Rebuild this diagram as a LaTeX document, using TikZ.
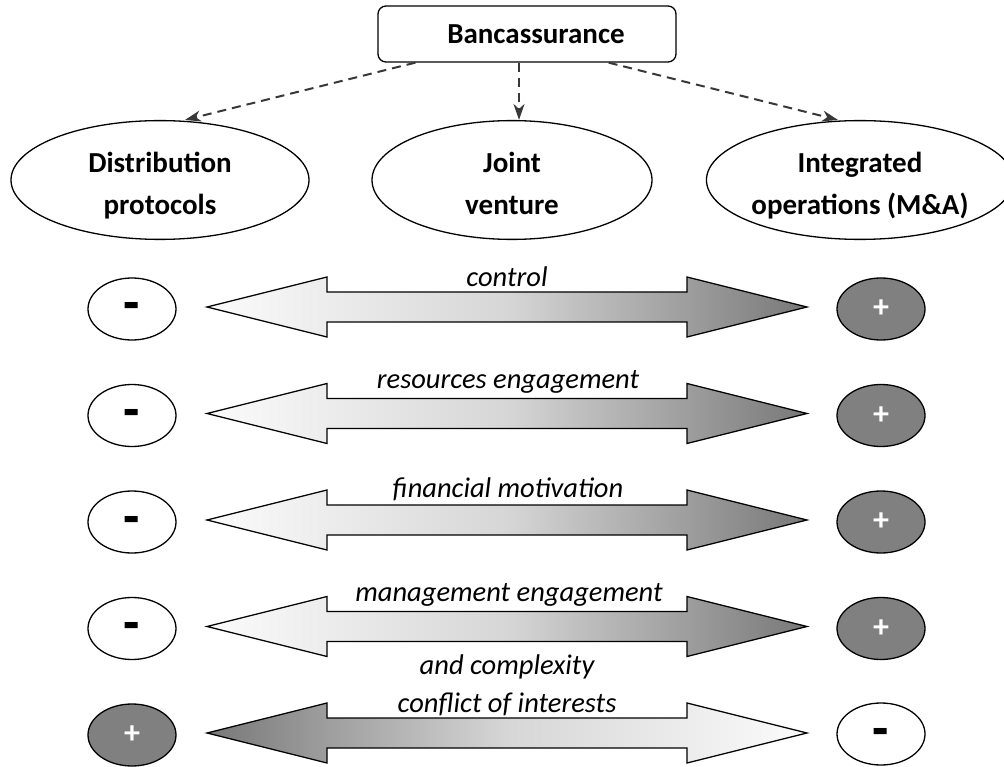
\documentclass[tikz,border=0pt]{standalone}
\usepackage{fontspec}
\usepackage{graphicx}
\setmainfont{Carlito}
\usetikzlibrary{arrows.meta,shapes.geometric}
\definecolor{lightend}{gray}{0.985}
\definecolor{midtone}{gray}{0.84}
\definecolor{darkend}{gray}{0.47}
\definecolor{ovalgray}{gray}{0.50}
\definecolor{dashgray}{gray}{0.22}
\newcommand\twolines[2]{\raisebox{-5pt}[\height][\depth]{\begin{tabular}{@{}c@{}}#1\\#2\end{tabular}}}
\newcommand\minussign{\raisebox{-17pt}[3pt][3pt]{\scalebox{1.15}[2.2]{–}}}
\begin{document}
\begin{tikzpicture}[x=1pt,y=-1pt,
  topbox/.style={draw=black,line width=1.3pt,rounded corners=8pt,minimum width=298pt,minimum height=56pt,inner sep=0pt,font=\fontsize{29}{40}\selectfont\bfseries},
  bigoval/.style={ellipse,draw=black,line width=1.3pt,inner sep=0pt,minimum height=102pt,font=\fontsize{29}{42}\selectfont\bfseries},
  smalloval/.style={ellipse,draw=black,line width=1.3pt,inner sep=0pt,minimum width=88pt,minimum height=62pt,font=\fontsize{32}{34}\selectfont\bfseries},
  minusoval/.style={smalloval,fill=white,text=black},
  plusoval/.style={smalloval,fill=ovalgray,text=white},
  dasharrow/.style={draw=dashgray,line width=2pt,dash pattern=on 9pt off 6pt,-{Stealth[length=16pt,width=11pt,inset=5pt]}},
  arrowbody/.style={draw=black,line width=1.3pt,line join=miter},
  lbl/.style={inner sep=0pt,align=center,font=\fontsize{28.5}{38}\selectfont\itshape}]
\useasboundingbox (0,0) rectangle (1004,767);

% top box and categories
\node[topbox] (bank) at (527,34) {\hspace*{18pt}Bancassurance};
\node[bigoval,minimum width=298pt] (dist) at (160,180) {\twolines{Distribution}{protocols}};
\node[bigoval,minimum width=280pt] (joint) at (512,180) {\twolines{Joint}{venture}};
\node[bigoval,minimum width=288pt] (integ) at (860,180) {\twolines{Integrated}{operations (M\&A)}};

\draw[dasharrow] ([xshift=38pt]bank.south west) -- ([xshift=25pt]dist.north);
\draw[dasharrow] ([xshift=-8pt]bank.south) -- ([xshift=7pt]joint.north);
\draw[dasharrow] ([xshift=-68pt]bank.south east) -- ([xshift=-22pt]integ.north);

% big double arrows
\foreach \ry/\lc/\rc in {307/lightend/darkend,413.5/lightend/darkend,520/lightend/darkend,626.5/lightend/darkend,733/darkend/lightend}{
  \path[arrowbody,left color=\lc,right color=\rc,middle color=midtone,shift={(507,\ry)}]
    (-300,0) -- (-180,-30) -- (-180,-15) -- (180,-15) -- (180,-30) -- (300,0)
    -- (180,30) -- (180,15) -- (-180,15) -- (-180,30) -- cycle;
}

% labels
\node[lbl] (l1) at (507,277) {control};
\node[lbl] (l2) at (508,382) {resources engagement};
\node[lbl] (l3) at (508,489) {financial motivation};
\node[lbl] (l4) at (509,595) {management engagement};
\node[lbl] (l5) at (507,685) {and complexity\\conflict of interests};

% small ovals
\node[minusoval] (m1) at (132,309) {\minussign};
\node[plusoval]  (p1) at (881,309) {+};
\node[minusoval] (m2) at (132,415.5) {\minussign};
\node[plusoval]  (p2) at (881,415.5) {+};
\node[minusoval] (m3) at (132,522) {\minussign};
\node[plusoval]  (p3) at (881,522) {+};
\node[minusoval] (m4) at (132,628.5) {\minussign};
\node[plusoval]  (p4) at (881,628.5) {+};
\node[plusoval]  (p5) at (132,735) {+};
\node[minusoval] (m5) at (881,734) {\minussign};
\end{tikzpicture}
\end{document}
